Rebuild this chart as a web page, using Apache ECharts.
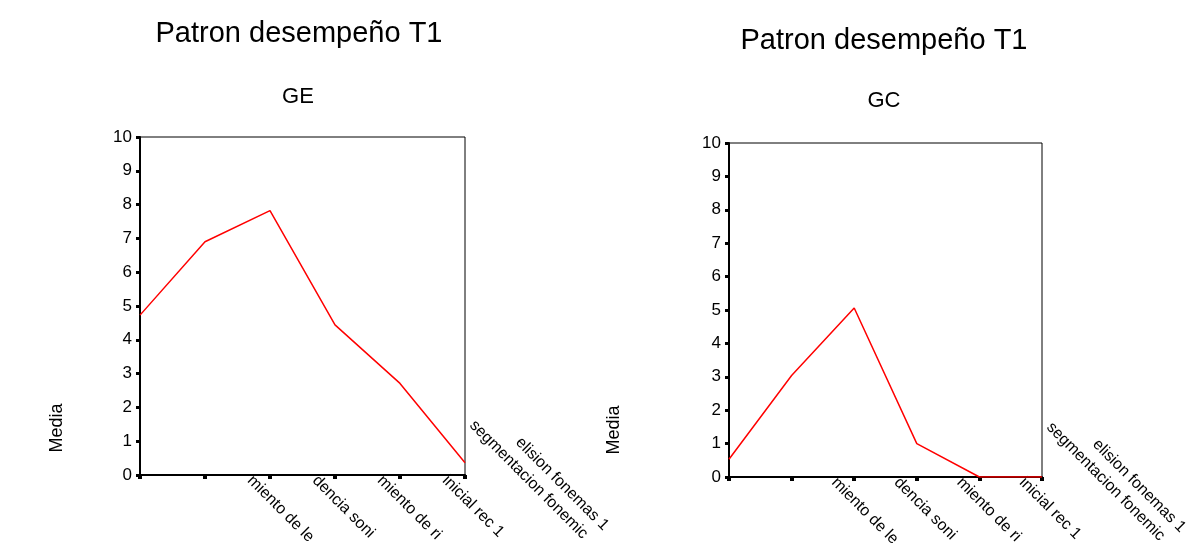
<!DOCTYPE html>
<html>
<head>
<meta charset="utf-8">
<script src="https://cdn.jsdelivr.net/npm/echarts@6/dist/echarts.min.js"></script>
<style>
html,body{margin:0;padding:0;background:#fff;}
#main{width:1200px;height:557px;}
</style>
</head>
<body>
<div id="main"></div>
<script>
// ---- data ----
const categories = ['', '', 'miento de le', 'dencia soni', 'miento de ri', 'inicial rec 1'];
const extraLabels = ['segmentacion fonemic', 'elision fonemas 1'];
const geValues = [4.73, 6.9, 7.82, 4.44, 2.71, 0.36];
const gcValues = [0.53, 3.04, 5.06, 1.0, 0, 0];
const mainTitle = 'Patron desempeño T1';
const groupTitles = ['GE', 'GC'];
const yName = 'Media';
const yMin = 0, yMax = 10, yStep = 1;

const FONT = '"Liberation Sans", Arial, sans-serif';
const chart = echarts.init(document.getElementById('main'), null, {renderer: 'canvas'});

function xAxisCfg(gi) {
  return {
    type: 'category', gridIndex: gi, data: categories, boundaryGap: false,
    axisLine: {show: true, onZero: false, lineStyle: {color: '#000', width: 2}},
    axisTick: {show: true, length: 4, interval: 0, lineStyle: {color: '#000', width: 4}},
    axisLabel: {
      show: true, interval: 0, rotate: -45, margin: -17,
      align: 'left', verticalAlign: 'top', lineHeight: 57,
      fontSize: 16, fontFamily: FONT, color: '#000'
    },
    splitLine: {show: false}
  };
}
function yAxisCfg(gi) {
  return {
    type: 'value', gridIndex: gi, min: yMin, max: yMax, interval: yStep,
    axisLine: {show: true, lineStyle: {color: '#000', width: 2}},
    axisTick: {show: true, length: 4, lineStyle: {color: '#000', width: 3}},
    axisLabel: {margin: 8, fontSize: 17, fontFamily: FONT, color: '#000'},
    splitLine: {show: false}
  };
}
function seriesCfg(gi, data) {
  return {
    type: 'line', xAxisIndex: gi, yAxisIndex: gi, data: data,
    showSymbol: false, symbol: 'none', z: 5,
    lineStyle: {color: '#ff0000', width: 1.5}, itemStyle: {color: '#ff0000'},
    silent: true
  };
}

const option = {
  animation: false,
  backgroundColor: '#fff',
  grid: [
    {left: 140, top: 137, width: 325, height: 338, containLabel: false, outerBoundsMode: 'none',
     show: true, borderColor: '#000', borderWidth: 1, backgroundColor: '#fff'},
    {left: 729, top: 143, width: 313, height: 334, containLabel: false, outerBoundsMode: 'none',
     show: true, borderColor: '#000', borderWidth: 1, backgroundColor: '#fff'}
  ],
  xAxis: [xAxisCfg(0), xAxisCfg(1)],
  yAxis: [yAxisCfg(0), yAxisCfg(1)],
  series: [seriesCfg(0, geValues), seriesCfg(1, gcValues)]
};
chart.setOption(option);

function txt(text, x, y, size, rot, align) {
  return {
    type: 'text', x: x, y: y, rotation: rot || 0, silent: true, z: 10,
    style: {
      text: text, fill: '#000', fontSize: size, fontFamily: FONT,
      align: align || 'center', verticalAlign: 'middle',
      textAlign: align || 'center', textVerticalAlign: 'middle'
    }
  };
}

const graphics = [
  txt(mainTitle, 299, 34, 29),
  txt(mainTitle, 884, 41, 29),
  txt(groupTitles[0], 298, 97, 22),
  txt(groupTitles[1], 884, 101, 22),
  txt(yName, 57, 428, 18, Math.PI / 2),
  txt(yName, 614, 430, 18, Math.PI / 2)
];
[0, 1].forEach(function (gi) {
  const p = chart.convertToPixel({gridIndex: gi}, [categories.length - 1, 0]);
  graphics.push(txt(extraLabels[0], p[0] + 7, p[1] - 52, 16, -Math.PI / 4, 'left'));
  graphics.push(txt(extraLabels[1], p[0] + 53, p[1] - 35, 16, -Math.PI / 4, 'left'));
});
chart.setOption({graphic: graphics});
</script>
</body>
</html>
